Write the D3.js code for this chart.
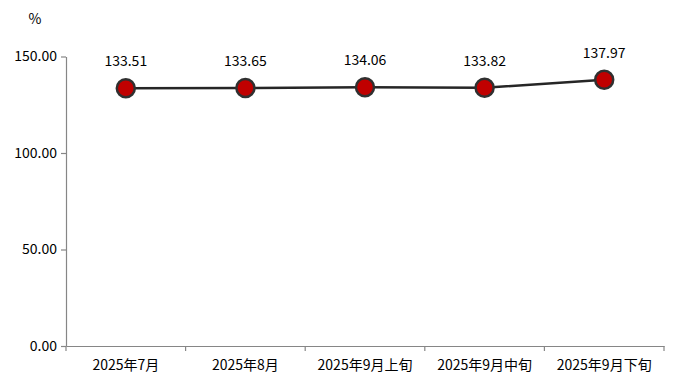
<!DOCTYPE html>
<html><head><meta charset="utf-8">
<script src="https://cdn.jsdelivr.net/npm/d3@7/dist/d3.min.js"></script>
<style>body{margin:0;background:#fff}svg{display:block}</style>
</head><body><svg id="c" width="681" height="383"></svg>
<script>
const categories = ["2025年7月","2025年8月","2025年9月上旬","2025年9月中旬","2025年9月下旬"];
const values = [133.51,133.65,134.06,133.82,137.97];
const yTicks = [0,50,100,150];
const unitLabel = "%";

const font = "'Noto Sans CJK SC','Noto Sans',sans-serif";
const svg = d3.select("#c");
const m = {l:66,r:17,t:56.5,b:37};
const W = 681, H = 383;
const x = d3.scaleBand().domain(categories).range([m.l, W-m.r]);
const y = d3.scaleLinear().domain([0,150]).range([H-m.b, m.t]);

const ya = svg.append("g").attr("transform",`translate(${m.l},0)`)
  .call(d3.axisLeft(y).tickValues(yTicks).tickFormat(d3.format(".2f")).tickSize(5).tickSizeOuter(0));
const xa = svg.append("g").attr("transform",`translate(0,${H-m.b})`)
  .call(d3.axisBottom(x).tickSize(0).tickSizeOuter(0).tickPadding(14));
// category boundary ticks
xa.selectAll(".bt").data(d3.range(categories.length+1)).enter().append("line")
  .attr("x1",i=>m.l+i*x.step()).attr("x2",i=>m.l+i*x.step())
  .attr("y1",0).attr("y2",5).attr("stroke","#868686");
[ya,xa].forEach(a=>{
  a.selectAll("path,line").attr("stroke","#868686").attr("stroke-width",1.2);
  a.selectAll("text").attr("fill","#000").style("font-family",font).style("font-size","14px");
});
ya.selectAll("text").attr("dx",-1);

svg.append("text").attr("x",35).attr("y",24).attr("text-anchor","middle")
  .style("font-family",font).style("font-size","14px").text(unitLabel);

const cx = d => x(d) + x.bandwidth()/2;
svg.append("path").datum(values)
  .attr("d", d3.line().x((v,i)=>cx(categories[i])).y(v=>y(v)))
  .attr("fill","none").attr("stroke","#262626").attr("stroke-width",2.5);

svg.selectAll(".pt").data(values).enter().append("circle")
  .attr("cx",(v,i)=>cx(categories[i])).attr("cy",v=>y(v)).attr("r",9)
  .attr("fill","#c00000").attr("stroke","#303030").attr("stroke-width",2.5);

svg.selectAll(".lb").data(values).enter().append("text")
  .attr("x",(v,i)=>cx(categories[i])).attr("y",v=>y(v)-22).attr("text-anchor","middle")
  .style("font-family",font).style("font-size","14px").attr("fill","#000")
  .text(v=>v.toFixed(2));
</script></body></html>
